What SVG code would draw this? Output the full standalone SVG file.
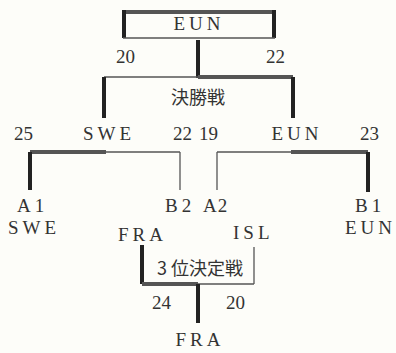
<svg xmlns="http://www.w3.org/2000/svg" width="396" height="353" viewBox="0 0 396 353">
<style>
.t{font-family:"Liberation Serif",serif;font-size:19px;fill:#333;letter-spacing:4px}
.n{font-family:"Liberation Serif",serif;font-size:19px;fill:#333}
.j{font-family:"Noto Sans CJK JP",sans-serif;font-size:18px;fill:#333}
.thick{stroke:#222;stroke-width:4;fill:none}
.thickg{stroke:#555;stroke-width:4;fill:none}
.thin{stroke:#555;stroke-width:1.3;fill:none}
</style>
<rect width="396" height="353" fill="#fdfdf9"/>
<g id="connectors">
<line class="thickg" x1="123" y1="12" x2="275" y2="12"/>
<line class="thick" x1="124" y1="10" x2="124" y2="38"/>
<line class="thick" x1="274" y1="10" x2="274" y2="38"/>
<line class="thin" x1="123" y1="38" x2="275" y2="38"/>
<line class="thick" x1="198" y1="40" x2="198" y2="78"/>
<line class="thin" x1="104" y1="77" x2="198" y2="77"/>
<line class="thickg" x1="198" y1="77" x2="293" y2="77"/>
<line class="thick" x1="104" y1="77" x2="104" y2="118"/>
<line class="thick" x1="293" y1="77" x2="293" y2="118"/>
<line class="thickg" x1="30" y1="152" x2="106" y2="152"/>
<line class="thin" x1="106" y1="152" x2="180" y2="152"/>
<line class="thick" x1="30" y1="152" x2="30" y2="190"/>
<line class="thin" x1="180" y1="152" x2="180" y2="190"/>
<line class="thin" x1="217" y1="152" x2="291" y2="152"/>
<line class="thickg" x1="291" y1="152" x2="368" y2="152"/>
<line class="thin" x1="217" y1="152" x2="217" y2="190"/>
<line class="thick" x1="368" y1="152" x2="368" y2="192"/>
<line class="thick" x1="142" y1="245" x2="142" y2="284"/>
<line class="thickg" x1="142" y1="284" x2="198" y2="284"/>
<line class="thin" x1="198" y1="284" x2="254" y2="284"/>
<line class="thin" x1="254" y1="247" x2="254" y2="284"/>
<line class="thick" x1="198" y1="284" x2="198" y2="323"/>
</g>
<g id="final-winner"><text class="t" x="199" y="30" text-anchor="middle">EUN</text></g>
<g id="final"><text class="n" x="116" y="63">20</text><text class="n" x="266" y="63">22</text><text class="j" x="198" y="104" text-anchor="middle">決勝戦</text></g>
<g id="semi1"><text class="n" x="14" y="140">25</text><text class="t" x="109" y="140" text-anchor="middle">SWE</text><text class="n" x="173" y="140">22</text></g>
<g id="semi2"><text class="n" x="199" y="140">19</text><text class="t" x="297" y="140" text-anchor="middle">EUN</text><text class="n" x="360" y="140">23</text></g>
<g id="a1"><text class="t" x="17" y="212">A1</text><text class="t" x="8" y="234">SWE</text></g>
<g id="b2"><text class="t" x="165" y="212">B2</text><text class="t" x="118" y="241">FRA</text></g>
<g id="a2"><text class="n" x="203" y="212" letter-spacing="1">A2</text><text class="t" x="233" y="239">ISL</text></g>
<g id="b1"><text class="t" x="355" y="212">B1</text><text class="t" x="345" y="234">EUN</text></g>
<g id="third"><text class="j" x="200" y="275" text-anchor="middle">3 位決定戦</text><text class="n" x="152" y="309">24</text><text class="n" x="226" y="309">20</text></g>
<g id="third-winner"><text class="t" x="200" y="346" text-anchor="middle">FRA</text></g>
</svg>
